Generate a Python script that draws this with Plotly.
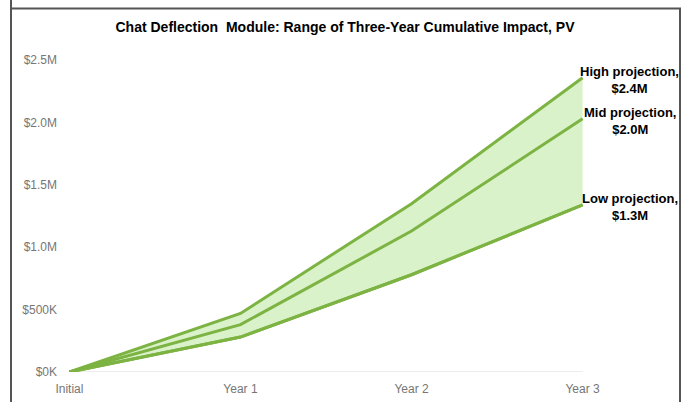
import plotly.graph_objects as go

# Cumulative impact, present value, in $M
periods = ["Initial", "Year 1", "Year 2", "Year 3"]
low = [0.0, 0.28, 0.78, 1.34]
mid = [0.0, 0.38, 1.13, 2.03]
high = [0.0, 0.47, 1.35, 2.36]
y_ticks = [0.0, 0.5, 1.0, 1.5, 2.0, 2.5]
y_tick_text = ["$0K", "$500K", "$1.0M", "$1.5M", "$2.0M", "$2.5M"]
end_labels = ["High projection,", "Mid projection,", "Low projection,"]

W, H = 684, 402
L, R, T, B = 66, 98, 54, 30
x_pos = list(range(len(periods)))

LINE = "#7cb342"
FILL = "#d9f2c9"
TICK_FONT = dict(family="Liberation Sans, Arial", size=12, color="#767676")

fig = go.Figure()
fig.add_trace(go.Scatter(x=x_pos, y=low, mode="lines",
                         line=dict(color=LINE, width=3), hoverinfo="skip"))
fig.add_trace(go.Scatter(x=x_pos, y=high, mode="lines", fill="tonexty",
                         fillcolor=FILL, line=dict(color=LINE, width=3),
                         hoverinfo="skip"))
fig.add_trace(go.Scatter(x=x_pos, y=mid, mode="lines",
                         line=dict(color=LINE, width=3), hoverinfo="skip"))
# redraw low line above the fill
fig.add_trace(go.Scatter(x=x_pos, y=low, mode="lines",
                         line=dict(color=LINE, width=3), hoverinfo="skip"))

# end-of-series labels
for name, series in zip(end_labels, [high, mid, low]):
    v = series[-1]
    fig.add_annotation(x=x_pos[-1], y=v, xref="x", yref="y",
                       text=f"{name}<br>${v:.1f}M", showarrow=False,
                       xanchor="center", yanchor="middle", xshift=47, yshift=-2,
                       align="center",
                       font=dict(family="Liberation Sans, Arial", size=13,
                                 color="#000000", weight="bold"))

# chart frame
pw = W - L - R
ph = H - T - B
def px_x(p):
    return (p - L) / pw
def px_y(p):
    return 1 - (p - T) / ph

frame = dict(color="#555555", width=2)
fig.add_shape(type="line", xref="paper", yref="paper",
              x0=px_x(11), x1=px_x(11), y0=px_y(0), y1=px_y(H), line=frame)
fig.add_shape(type="line", xref="paper", yref="paper",
              x0=px_x(11), x1=px_x(681), y0=px_y(8.5), y1=px_y(8.5), line=frame)
fig.add_shape(type="line", xref="paper", yref="paper",
              x0=px_x(680), x1=px_x(680), y0=px_y(8.5), y1=px_y(H), line=frame)

fig.update_layout(
    width=W, height=H,
    margin=dict(l=L, r=R, t=T, b=B, autoexpand=False),
    paper_bgcolor="white", plot_bgcolor="white",
    showlegend=False,
    title=dict(text="<b>Chat Deflection  Module: Range of Three-Year Cumulative Impact, PV</b>",
               x=345 / W, xanchor="center", xref="container",
               y=1 - 27 / H, yanchor="middle", yref="container",
               font=dict(family="Liberation Sans, Arial", size=14, color="#000000")),
    xaxis=dict(range=[-0.02, 3.02], tickmode="array", tickvals=x_pos,
               ticktext=periods, showgrid=False, zeroline=False,
               showline=False, ticks="", ticklabelstandoff=8,
               automargin=False, tickfont=TICK_FONT),
    yaxis=dict(range=[0, 2.55], tickmode="array", tickvals=y_ticks,
               ticktext=y_tick_text, showgrid=False, zeroline=False,
               showline=False, ticks="", ticklabelstandoff=8,
               automargin=False, tickfont=TICK_FONT),
)

# category baseline
fig.add_shape(type="line", xref="x", yref="y", x0=0, x1=3, y0=0, y1=0,
              line=dict(color="#d9d9d9", width=1), layer="below")

fig.write_html("out.html")
